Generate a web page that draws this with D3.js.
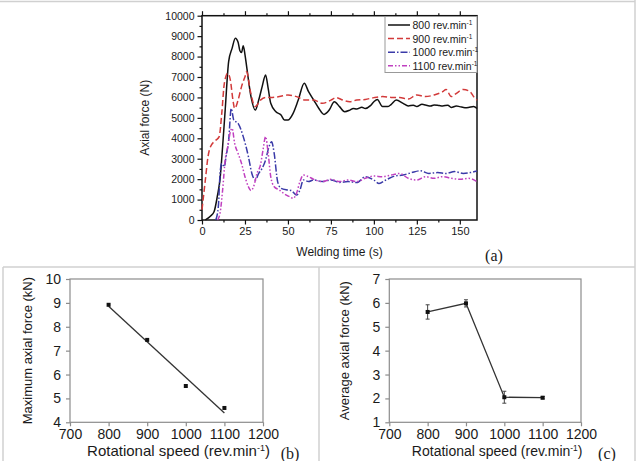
<!DOCTYPE html>
<html>
<head>
<meta charset="utf-8">
<script src="https://cdn.jsdelivr.net/npm/d3@7"></script>
<style>
  body { margin: 0; background: #fff; }
  svg text { font-family: "Liberation Sans", Arial, sans-serif; fill: #1a1a1a; }
</style>
</head>
<body>
<div id="chart"></div>
<script>
const width = 640,
    height = 461;

// Panel (a): axial force vs welding time
const time800 = [2, 5, 7, 9, 10.5, 12, 13.5, 15.5, 17.5, 19.4, 21, 22, 23, 24, 25, 26, 28.5, 31, 33, 35, 37, 38.5, 40, 43, 46, 48, 50, 53, 56, 59.5, 62, 65, 68, 71, 74, 77, 80, 83, 86, 88, 90, 93, 95, 98, 100, 102, 105, 108, 110, 113, 117, 120, 123, 125, 128, 130, 133, 135, 138, 140, 143, 145, 148, 150, 153, 155, 158, 160];
const force800 = [0, 200, 400, 1200, 2000, 3600, 5400, 7750, 8400, 8900, 8700, 8300, 8200, 8530, 8100, 7500, 6040, 5380, 5870, 6530, 7100, 6440, 5710, 5300, 5140, 4890, 4890, 5220, 5870, 6690, 6280, 5870, 5460, 5170, 5380, 5790, 5550, 5300, 5380, 5460, 5430, 5520, 5460, 5600, 5790, 5900, 5550, 5550, 5650, 5870, 5710, 5580, 5620, 5550, 5660, 5630, 5580, 5630, 5600, 5580, 5620, 5510, 5580, 5550, 5500, 5510, 5560, 5460];

const time900 = [0, 2, 3.5, 5, 8, 10, 11.5, 13, 15, 16.5, 18, 19, 21, 23, 25, 26, 28, 31, 34, 37, 40, 45, 50, 55, 60, 65, 70, 75, 78, 82, 86, 90, 95, 100, 105, 110, 115, 120, 125, 130, 135, 140, 142, 145, 148, 152, 156, 158, 160];
const force900 = [500, 2000, 3100, 3600, 3900, 4080, 5220, 6690, 7180, 6850, 5870, 5460, 5870, 6530, 7010, 7260, 6360, 5550, 5870, 6000, 6000, 6040, 6120, 6040, 5870, 5870, 5710, 5870, 5990, 5870, 5790, 5870, 5900, 5990, 6040, 6000, 5990, 5920, 6120, 6040, 6120, 6280, 6390, 6040, 6200, 6390, 6280, 6040, 5870];

const time1000 = [8, 9.5, 10.5, 11.5, 13, 14, 15.5, 17, 18.5, 21, 24, 27, 29, 31, 33, 35, 37, 39, 40.5, 42, 44, 46, 50, 52, 55, 57, 59, 62, 65, 70, 75, 80, 85, 90, 95, 100, 103, 107, 112, 117, 122, 127, 132, 137, 142, 147, 152, 156, 160];
const force1000 = [0, 650, 2280, 2770, 2610, 3100, 3900, 5460, 4890, 4730, 4080, 3100, 2280, 1960, 2280, 2530, 2940, 3590, 3830, 3260, 1880, 1550, 1470, 1440, 1220, 1470, 1960, 1880, 1960, 1880, 1960, 1840, 1880, 1830, 2120, 1960, 1790, 1960, 2150, 2200, 2320, 2410, 2280, 2320, 2280, 2370, 2280, 2320, 2400];

const time1100 = [9, 10.5, 12, 13.5, 15, 16.5, 17.5, 19, 21, 23, 25, 27, 28.5, 30, 32, 34, 35.5, 37, 38.5, 40, 42, 45, 48, 51, 53, 55, 57, 59, 62, 65, 70, 75, 80, 85, 90, 95, 100, 105, 110, 115, 120, 125, 130, 135, 140, 145, 150, 155, 160];
const force1100 = [0, 330, 1470, 2940, 3590, 4320, 4490, 3750, 3260, 2770, 2120, 1630, 1440, 1630, 2280, 2690, 3430, 4080, 3260, 2120, 1630, 1470, 1270, 1140, 1060, 1310, 1880, 2200, 2120, 1990, 1880, 1990, 1880, 1960, 1880, 2040, 2150, 2120, 2200, 2280, 2040, 1960, 2120, 2040, 2120, 2040, 1990, 2040, 1880];

const seriesNames = ["800", "900", "1000", "1100"];
const seriesColors = ["#111111", "#d23a3a", "#3a3aa8", "#c040c0"];
const seriesDash = ["none", "6,3", "7,2,1.5,2", "5,2,1.5,2,1.5,2"];

// Panels (b) and (c)
const speeds = [800, 900, 1000, 1100];
const maxForce = [8.92, 7.45, 5.52, 4.6];
const avgForce = [5.62, 5.98, 2.05, 2.03];
const avgError = [0.3, 0.15, 0.25, 0.05];

const svg = d3.select("#chart")
    .append("svg")
    .attr("width", width)
    .attr("height", height);

// panel frames
const frame = svg.append("g")
    .attr("stroke", "#d0d0d0")
    .attr("stroke-width", 1.5)
    .attr("fill", "none");
frame.append("line").attr("x1", 0).attr("x2", 635).attr("y1", 1.5).attr("y2", 1.5);
frame.append("line").attr("x1", 635).attr("x2", 635).attr("y1", 0).attr("y2", height);
frame.append("line").attr("x1", 3).attr("x2", 635).attr("y1", 267).attr("y2", 267);
frame.append("line").attr("x1", 3).attr("x2", 3).attr("y1", 267).attr("y2", height);
frame.append("line").attr("x1", 319).attr("x2", 319).attr("y1", 267).attr("y2", height);

// ---------- Panel (a) ----------
const ax = d3.scaleLinear().domain([0, 160]).range([202, 477]);
const ay = d3.scaleLinear().domain([0, 10000]).range([220, 15.7]);

const pa = svg.append("g");

pa.append("rect")
    .attr("x", ax(0)).attr("y", ay(10000))
    .attr("width", ax(160) - ax(0)).attr("height", ay(0) - ay(10000))
    .attr("fill", "none").attr("stroke", "#111").attr("stroke-width", 1.5);

// minor ticks
pa.append("g")
    .attr("transform", `translate(0,${ay(0)})`)
    .call(d3.axisBottom(ax).tickValues(d3.range(12.5, 160, 25)).tickSize(2.5).tickFormat(""))
    .call(g => g.select(".domain").remove());
pa.append("g")
    .attr("transform", `translate(0,${ay(10000)})`)
    .call(d3.axisTop(ax).tickValues(d3.range(12.5, 160, 25)).tickSize(2.5).tickFormat(""))
    .call(g => g.select(".domain").remove());
pa.append("g")
    .attr("transform", `translate(${ax(0)},0)`)
    .call(d3.axisLeft(ay).tickValues(d3.range(500, 10000, 1000)).tickSize(2.5).tickFormat(""))
    .call(g => g.select(".domain").remove());

const aBottom = pa.append("g")
    .attr("transform", `translate(0,${ay(0)})`)
    .call(d3.axisBottom(ax).tickValues([0, 25, 50, 75, 100, 125, 150]).tickSize(4.5).tickPadding(3).tickFormat(d3.format("d")));
aBottom.select(".domain").remove();
aBottom.selectAll("text").attr("font-size", 11);

pa.append("g")
    .attr("transform", `translate(0,${ay(10000)})`)
    .call(d3.axisTop(ax).tickValues([0, 25, 50, 75, 100, 125, 150]).tickSize(4.5).tickFormat(""))
    .call(g => g.select(".domain").remove());

const aLeft = pa.append("g")
    .attr("transform", `translate(${ax(0)},0)`)
    .call(d3.axisLeft(ay).tickValues(d3.range(0, 10001, 1000)).tickSize(4.5).tickPadding(3).tickFormat(d3.format("d")));
aLeft.select(".domain").remove();
aLeft.selectAll("text").attr("font-size", 10.5);
pa.selectAll(".tick line").attr("stroke", "#111").attr("stroke-width", 1.2);

const seriesData = [
    d3.zip(time800, force800),
    d3.zip(time900, force900),
    d3.zip(time1000, force1000),
    d3.zip(time1100, force1100)
];

const line = d3.line()
    .x(d => ax(d[0]))
    .y(d => ay(d[1]))
    .curve(d3.curveMonotoneX);

pa.selectAll("path.series")
    .data(seriesData)
    .enter()
    .append("path")
    .attr("class", "series")
    .attr("d", line)
    .attr("fill", "none")
    .attr("stroke", (d, i) => seriesColors[i])
    .attr("stroke-width", 1.5)
    .attr("stroke-dasharray", (d, i) => seriesDash[i]);

// legend
const legend = pa.append("g").attr("transform", "translate(385,16.5)");
legend.append("rect")
    .attr("width", 92).attr("height", 56)
    .attr("fill", "#fff").attr("stroke", "#999").attr("stroke-width", 1);
const items = legend.selectAll("g.item")
    .data(seriesNames)
    .enter()
    .append("g")
    .attr("class", "item")
    .attr("transform", (d, i) => `translate(0,${8.5 + i * 13.6})`);
items.append("line")
    .attr("x1", 3).attr("x2", 25)
    .attr("stroke", (d, i) => seriesColors[i])
    .attr("stroke-width", 1.5)
    .attr("stroke-dasharray", (d, i) => seriesDash[i]);
const itemText = items.append("text")
    .attr("x", 27.5).attr("y", 4)
    .attr("font-size", 10.5);
itemText.append("tspan").text(d => d + " rev.min");
itemText.append("tspan").attr("dy", -4).attr("font-size", 6.5).text("-1");

pa.append("text")
    .attr("transform", `translate(149,${(ay(0) + ay(10000)) / 2}) rotate(-90)`)
    .attr("text-anchor", "middle")
    .attr("font-size", 12)
    .text("Axial force (N)");
pa.append("text")
    .attr("x", (ax(0) + ax(160)) / 2).attr("y", 256)
    .attr("text-anchor", "middle")
    .attr("font-size", 12)
    .text("Welding time (s)");
pa.append("text")
    .attr("x", 494).attr("y", 261)
    .attr("text-anchor", "middle")
    .attr("font-size", 16)
    .style("font-family", "'Liberation Serif', 'Times New Roman', serif")
    .text("(a)");

// ---------- Panels (b) and (c) ----------
function smallPanel(x0, x1, yDomain, yLabel, labelX, tag, tagX, titleSize) {
    const sx = d3.scaleLinear().domain([700, 1200]).range([x0, x1]);
    const sy = d3.scaleLinear().domain(yDomain).range([422.3, 279]);
    const g = svg.append("g");

    g.append("rect")
        .attr("x", x0).attr("y", 279)
        .attr("width", x1 - x0).attr("height", 422.3 - 279)
        .attr("fill", "none").attr("stroke", "#8c8c8c").attr("stroke-width", 1.2);

    g.append("g")
        .attr("transform", `translate(0,422.3)`)
        .call(d3.axisBottom(sx).tickValues([700, 800, 900, 1000, 1100, 1200]).tickSize(4).tickPadding(3).tickFormat(d3.format("d")));
    g.append("g")
        .attr("transform", `translate(${x0},0)`)
        .call(d3.axisLeft(sy).ticks(yDomain[1] - yDomain[0]).tickSize(4).tickPadding(5).tickFormat(d3.format("d")));
    g.selectAll(".domain").remove();
    g.selectAll(".tick line").attr("stroke", "#8c8c8c").attr("stroke-width", 1.2);
    g.selectAll(".tick text").attr("font-size", 14);

    const title = g.append("text")
        .attr("x", (x0 + x1) / 2 + 12).attr("y", 456)
        .attr("text-anchor", "middle")
        .attr("font-size", titleSize);
    title.append("tspan").text("Rotational speed (rev.min");
    title.append("tspan").attr("dy", -5).attr("font-size", titleSize * 0.6).text("-1");
    title.append("tspan").attr("dy", 5).text(")");

    g.append("text")
        .attr("transform", `translate(${labelX},${(279 + 422.3) / 2}) rotate(-90)`)
        .attr("text-anchor", "middle")
        .attr("font-size", 13)
        .text(yLabel);

    g.append("text")
        .attr("x", tagX).attr("y", 459)
        .attr("text-anchor", "middle")
        .attr("font-size", 16)
        .style("font-family", "'Liberation Serif', 'Times New Roman', serif")
        .text(tag);

    return { g, sx, sy };
}

// (b) maximum axial force with linear trend
const b = smallPanel(70, 263, [4, 10], "Maximum axial force (kN)", 32, "(b)", 290, 15);
const meanX = d3.mean(speeds), meanY = d3.mean(maxForce);
const slope = d3.sum(speeds, (s, i) => (s - meanX) * (maxForce[i] - meanY)) /
    d3.sum(speeds, s => (s - meanX) * (s - meanX));
const fit = s => meanY + slope * (s - meanX);
b.g.append("line")
    .attr("x1", b.sx(800)).attr("y1", b.sy(fit(800)))
    .attr("x2", b.sx(1100)).attr("y2", b.sy(fit(1100)))
    .attr("stroke", "#333").attr("stroke-width", 1.3);
b.g.selectAll("rect.pt")
    .data(speeds)
    .enter()
    .append("rect")
    .attr("class", "pt")
    .attr("x", (d) => b.sx(d) - 2).attr("y", (d, i) => b.sy(maxForce[i]) - 2)
    .attr("width", 4).attr("height", 4)
    .attr("fill", "#111");

// (c) average axial force with error bars
const c = smallPanel(389.3, 581, [1, 7], "Average  axial force (kN)", 349, "(c)", 607, 14);
c.g.append("path")
    .datum(speeds)
    .attr("d", d3.line().x(d => c.sx(d)).y((d, i) => c.sy(avgForce[i])))
    .attr("fill", "none")
    .attr("stroke", "#333").attr("stroke-width", 1.3);
const err = c.g.selectAll("g.err")
    .data(speeds)
    .enter()
    .append("g")
    .attr("class", "err")
    .attr("stroke", "#444").attr("stroke-width", 1);
err.append("line")
    .attr("x1", d => c.sx(d)).attr("x2", d => c.sx(d))
    .attr("y1", (d, i) => c.sy(avgForce[i] - avgError[i]))
    .attr("y2", (d, i) => c.sy(avgForce[i] + avgError[i]));
err.append("line")
    .attr("x1", d => c.sx(d) - 2).attr("x2", d => c.sx(d) + 2)
    .attr("y1", (d, i) => c.sy(avgForce[i] - avgError[i]))
    .attr("y2", (d, i) => c.sy(avgForce[i] - avgError[i]));
err.append("line")
    .attr("x1", d => c.sx(d) - 2).attr("x2", d => c.sx(d) + 2)
    .attr("y1", (d, i) => c.sy(avgForce[i] + avgError[i]))
    .attr("y2", (d, i) => c.sy(avgForce[i] + avgError[i]));
c.g.selectAll("rect.pt")
    .data(speeds)
    .enter()
    .append("rect")
    .attr("class", "pt")
    .attr("x", d => c.sx(d) - 2).attr("y", (d, i) => c.sy(avgForce[i]) - 2)
    .attr("width", 4).attr("height", 4)
    .attr("fill", "#111");
</script>
</body>
</html>
